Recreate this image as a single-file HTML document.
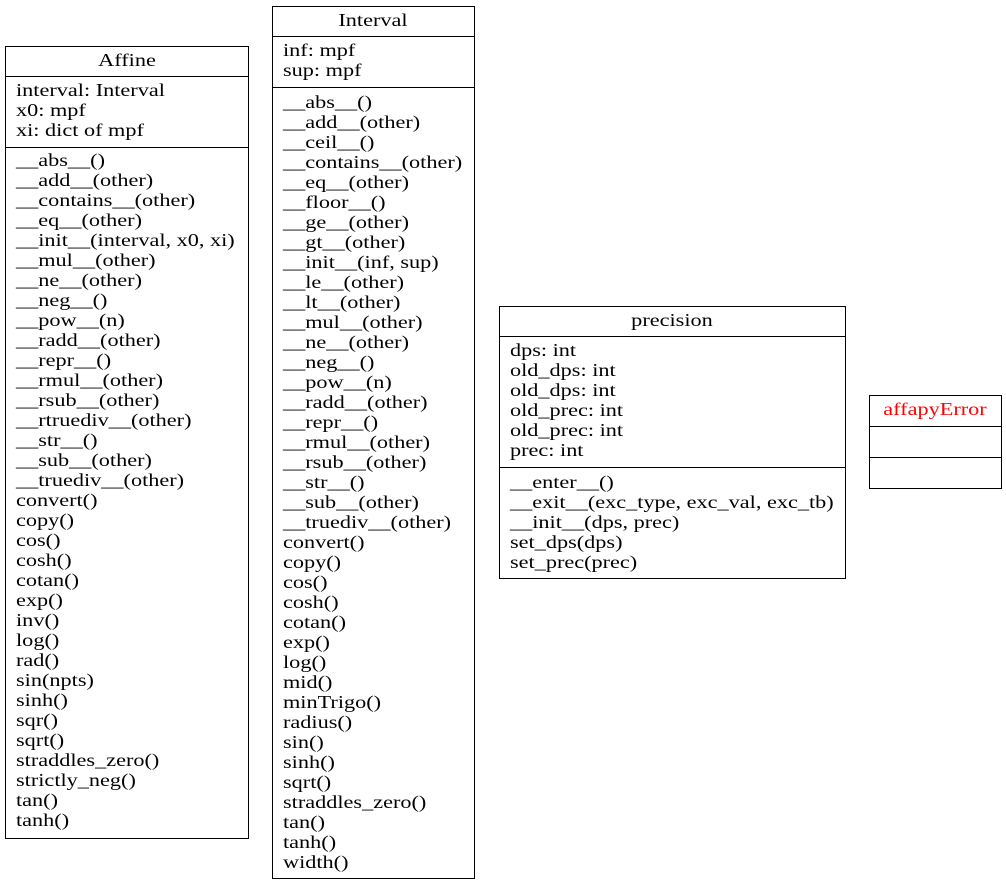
<!DOCTYPE html>
<html><head><meta charset="utf-8"><style>
html,body{margin:0;padding:0;background:#fff}
svg{display:block}
text{font-family:"Liberation Serif",serif;font-size:18px;fill:#000}
</style></head><body>
<svg width="1006" height="884" viewBox="0 0 1006 884" xmlns="http://www.w3.org/2000/svg">
<g fill="none" stroke="#000" stroke-width="1">
<rect x="5.5" y="46.5" width="243" height="792"/>
<line x1="5.5" y1="76.5" x2="248.5" y2="76.5"/>
<line x1="5.5" y1="147.5" x2="248.5" y2="147.5"/>
<rect x="272.5" y="6.5" width="202" height="872"/>
<line x1="272.5" y1="36.5" x2="474.5" y2="36.5"/>
<line x1="272.5" y1="87.5" x2="474.5" y2="87.5"/>
<rect x="499.5" y="306.5" width="346" height="272"/>
<line x1="499.5" y1="336.5" x2="845.5" y2="336.5"/>
<line x1="499.5" y1="467.5" x2="845.5" y2="467.5"/>
<rect x="869.5" y="395.5" width="132" height="93"/>
<line x1="869.5" y1="426.5" x2="1001.5" y2="426.5"/>
<line x1="869.5" y1="457.5" x2="1001.5" y2="457.5"/>
</g>
<text x="127" y="66" text-anchor="middle">Affine</text>
<text x="373" y="26" text-anchor="middle">Interval</text>
<text x="672" y="326" text-anchor="middle">precision</text>
<text x="935" y="415" text-anchor="middle" style="fill:#ff0000">affapyError</text>
<script>
function put(x,y0,items){var s=document.querySelector('svg');items.forEach(function(t,i){var e=document.createElementNS('http://www.w3.org/2000/svg','text');e.setAttribute('x',x);e.setAttribute('y',y0+i*20+6);e.textContent=t;s.appendChild(e);});}
put(16,90,["interval: Interval","x0: mpf","xi: dict of mpf"]);
put(16,160,["__abs__()","__add__(other)","__contains__(other)","__eq__(other)","__init__(interval, x0, xi)","__mul__(other)","__ne__(other)","__neg__()","__pow__(n)","__radd__(other)","__repr__()","__rmul__(other)","__rsub__(other)","__rtruediv__(other)","__str__()","__sub__(other)","__truediv__(other)","convert()","copy()","cos()","cosh()","cotan()","exp()","inv()","log()","rad()","sin(npts)","sinh()","sqr()","sqrt()","straddles_zero()","strictly_neg()","tan()","tanh()"]);
put(283,50,["inf: mpf","sup: mpf"]);
put(283,102,["__abs__()","__add__(other)","__ceil__()","__contains__(other)","__eq__(other)","__floor__()","__ge__(other)","__gt__(other)","__init__(inf, sup)","__le__(other)","__lt__(other)","__mul__(other)","__ne__(other)","__neg__()","__pow__(n)","__radd__(other)","__repr__()","__rmul__(other)","__rsub__(other)","__str__()","__sub__(other)","__truediv__(other)","convert()","copy()","cos()","cosh()","cotan()","exp()","log()","mid()","minTrigo()","radius()","sin()","sinh()","sqrt()","straddles_zero()","tan()","tanh()","width()"]);
put(510,350,["dps: int","old_dps: int","old_dps: int","old_prec: int","old_prec: int","prec: int"]);
put(510,482,["__enter__()","__exit__(exc_type, exc_val, exc_tb)","__init__(dps, prec)","set_dps(dps)","set_prec(prec)"]);
Array.prototype.forEach.call(document.querySelectorAll('svg text'),function(e){var w=e.getComputedTextLength();e.setAttribute('textLength',(w*1.236).toFixed(1));e.setAttribute('lengthAdjust','spacingAndGlyphs');});
</script>
</svg>
</body></html>
